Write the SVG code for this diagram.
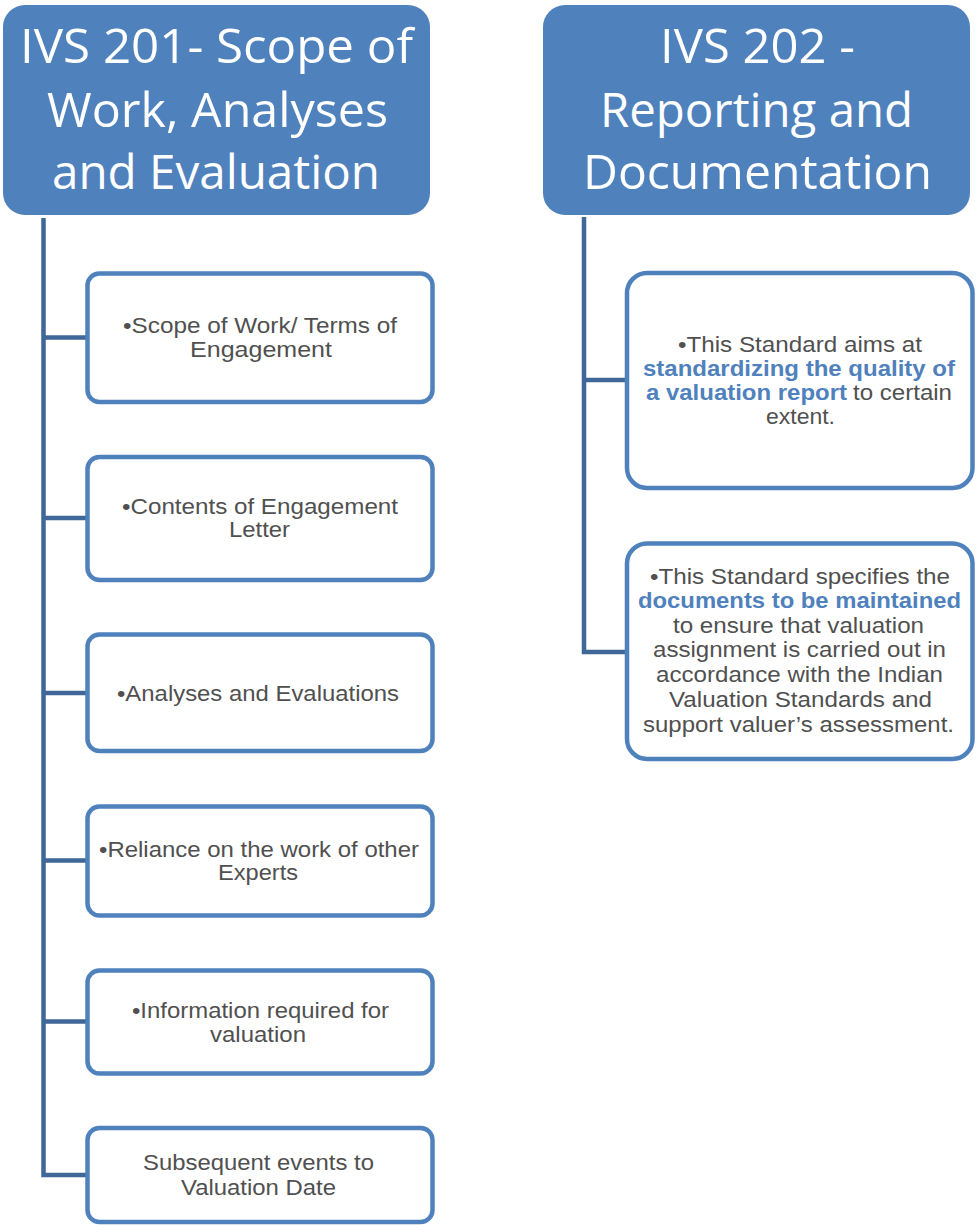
<svg xmlns="http://www.w3.org/2000/svg" width="978" height="1226" viewBox="0 0 978 1226">
<style>
.hdr{fill:#4F81BD}
.ht{font-family:"Open Sans","Noto Sans",sans-serif;font-size:48px;fill:#FFFFFF;font-variant-ligatures:none}
.box{fill:#FFFFFF;stroke:#4F81BD;stroke-width:4.5}
.bt{font-family:"Liberation Sans",Arial,sans-serif;font-size:22px;fill:#505050}
.bb{font-family:"Liberation Sans",Arial,sans-serif;font-size:22px;font-weight:bold;fill:#4F81BD}
.con{fill:none;stroke:#3F6797;stroke-width:4.5;stroke-linejoin:miter;stroke-linecap:butt}
</style>
<rect width="978" height="1226" fill="#FFFFFF"/>
<g id="connectors">
<path class="con" d="M43.5 218 V1175 H86 M43.5 337.5 H86 M43.5 518 H86 M43.5 693 H86 M43.5 860.5 H86 M43.5 1021.5 H86"/>
<path class="con" d="M584 217 V652 H627 M584 380 H627"/>
</g>
<g id="ivs201">
<rect class="hdr" x="3" y="5" width="427" height="210" rx="22"/>
<text class="ht" x="20" y="63" textLength="393" lengthAdjust="spacingAndGlyphs">IVS 201- Scope of</text>
<text class="ht" x="47" y="127" textLength="341" lengthAdjust="spacingAndGlyphs">Work, Analyses</text>
<text class="ht" x="52" y="189" textLength="328" lengthAdjust="spacingAndGlyphs">and Evaluation</text>
</g>
<g id="ivs202">
<rect class="hdr" x="543" y="5" width="427" height="210" rx="22"/>
<text class="ht" x="660" y="63" textLength="195" lengthAdjust="spacingAndGlyphs">IVS 202 -</text>
<text class="ht" x="600" y="127" textLength="313" lengthAdjust="spacingAndGlyphs">Reporting and</text>
<text class="ht" x="583" y="189" textLength="349" lengthAdjust="spacingAndGlyphs">Documentation</text>
</g>
<g id="scope">
<rect class="box" x="87.5" y="273.5" width="345" height="128.5" rx="12"/>
<text class="bt" x="123" y="333" textLength="274" lengthAdjust="spacingAndGlyphs">•Scope of Work/ Terms of</text>
<text class="bt" x="190" y="357" textLength="142" lengthAdjust="spacingAndGlyphs">Engagement</text>
</g>
<g id="contents">
<rect class="box" x="87.5" y="457" width="345" height="123" rx="12"/>
<text class="bt" x="122" y="514" textLength="276" lengthAdjust="spacingAndGlyphs">•Contents of Engagement</text>
<text class="bt" x="229" y="537" textLength="61" lengthAdjust="spacingAndGlyphs">Letter</text>
</g>
<g id="analyses">
<rect class="box" x="87.5" y="634.5" width="345" height="116.5" rx="12"/>
<text class="bt" x="117" y="701" textLength="282" lengthAdjust="spacingAndGlyphs">•Analyses and Evaluations</text>
</g>
<g id="reliance">
<rect class="box" x="87.5" y="806.5" width="345" height="109" rx="12"/>
<text class="bt" x="99" y="857" textLength="320" lengthAdjust="spacingAndGlyphs">•Reliance on the work of other</text>
<text class="bt" x="218" y="880" textLength="80" lengthAdjust="spacingAndGlyphs">Experts</text>
</g>
<g id="information">
<rect class="box" x="87.5" y="970.5" width="345" height="103" rx="12"/>
<text class="bt" x="132" y="1018" textLength="257" lengthAdjust="spacingAndGlyphs">•Information required for</text>
<text class="bt" x="210" y="1042" textLength="96" lengthAdjust="spacingAndGlyphs">valuation</text>
</g>
<g id="subsequent">
<rect class="box" x="87.5" y="1128" width="345" height="94" rx="12"/>
<text class="bt" x="143" y="1170" textLength="231" lengthAdjust="spacingAndGlyphs">Subsequent events to</text>
<text class="bt" x="181" y="1195" textLength="155" lengthAdjust="spacingAndGlyphs">Valuation Date</text>
</g>
<g id="quality">
<rect class="box" x="627" y="273" width="345.5" height="215" rx="20"/>
<text class="bt" x="678" y="352" textLength="244" lengthAdjust="spacingAndGlyphs">•This Standard aims at</text>
<text class="bb" x="643" y="376" textLength="312" lengthAdjust="spacingAndGlyphs">standardizing the quality of</text>
<text class="bb" x="646" y="400" textLength="201" lengthAdjust="spacingAndGlyphs">a valuation report</text>
<text class="bt" x="853" y="400" textLength="99" lengthAdjust="spacingAndGlyphs">to certain</text>
<text class="bt" x="766" y="424" textLength="69" lengthAdjust="spacingAndGlyphs">extent.</text>
</g>
<g id="documents">
<rect class="box" x="627" y="543.5" width="345.5" height="215.5" rx="20"/>
<text class="bt" x="650" y="584" textLength="300" lengthAdjust="spacingAndGlyphs">•This Standard specifies the</text>
<text class="bb" x="638" y="608" textLength="323" lengthAdjust="spacingAndGlyphs">documents to be maintained</text>
<text class="bt" x="673" y="633" textLength="251" lengthAdjust="spacingAndGlyphs">to ensure that valuation</text>
<text class="bt" x="653" y="657" textLength="293" lengthAdjust="spacingAndGlyphs">assignment is carried out in</text>
<text class="bt" x="656" y="682" textLength="287" lengthAdjust="spacingAndGlyphs">accordance with the Indian</text>
<text class="bt" x="669" y="707" textLength="263" lengthAdjust="spacingAndGlyphs">Valuation Standards and</text>
<text class="bt" x="643" y="732" textLength="311" lengthAdjust="spacingAndGlyphs">support valuer’s assessment.</text>
</g>
</svg>
